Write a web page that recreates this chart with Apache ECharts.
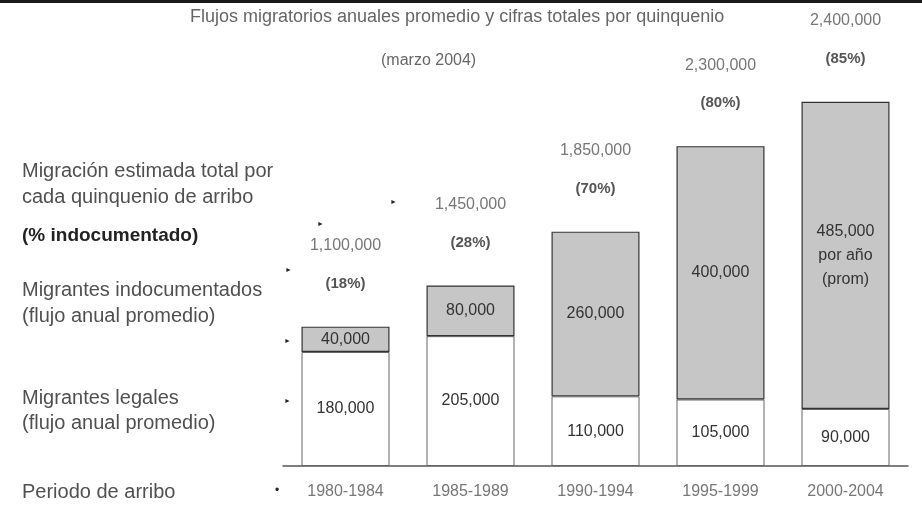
<!DOCTYPE html>
<html lang="es">
<head>
    <meta charset="UTF-8">
    <title>Flujos migratorios</title>
    <style>
        html, body { margin: 0; padding: 0; background: #fff; }
        #container { width: 922px; height: 508px; }
    </style>
</head>
<body>
    <div id="container"></div>
    <script src="https://cdn.jsdelivr.net/npm/echarts@6/dist/echarts.min.js"></script>
    <script>
        // periodos de arribo
        var periodos = ['1980-1984', '1985-1989', '1990-1994', '1995-1999', '2000-2004'];
        // flujo anual promedio
        var legales = [180000, 205000, 110000, 105000, 90000];
        var indocumentados = [40000, 80000, 260000, 400000, 485000];
        // migracion total por quinquenio y % indocumentado
        var totales = [1100000, 1450000, 1850000, 2300000, 2400000];
        var pctIndoc = [18, 28, 70, 80, 85];

        var fmt = function (v) { return v.toLocaleString('en-US'); };
        var font = '"Liberation Sans", Arial, sans-serif';

        var ec = echarts.init(document.querySelector('#container'));

        // textos de la izquierda
        var leftTexts = [
            ['Migración estimada total por', 172, false],
            ['cada quinquenio de arribo', 198, false],
            ['(% indocumentado)', 237, true],
            ['Migrantes indocumentados', 291, false],
            ['(flujo anual promedio)', 317, false],
            ['Migrantes legales', 399, false],
            ['(flujo anual promedio)', 424, false],
            ['Periodo de arribo', 493, false]
        ];
        var graphics = leftTexts.map(function (t) {
            return {
                type: 'text', left: 22, top: t[1] - 11,
                style: {
                    text: t[0], fill: t[2] ? '#222' : '#505050',
                    font: (t[2] ? 'bold 19px ' : '20px ') + font
                }
            };
        });
        // pequeñas flechas
        [[287, 343], [287, 403], [288, 272], [320, 226], [393, 204]].forEach(function (p) {
            graphics.push({
                type: 'text', left: p[0] - 3, top: p[1] - 5,
                style: { text: '►', fill: '#222', font: '7px ' + font }
            });
        });
        graphics.push({
            type: 'text', left: 275, top: 485,
            style: { text: '•', fill: '#222', font: '12px ' + font }
        });
        graphics.push({
            type: 'rect', left: 0, top: 0, shape: { width: 922, height: 3 },
            style: { fill: '#1a1a1a' }
        });
        graphics.push({
            type: 'text', left: 190, top: 8,
            style: {
                text: 'Flujos migratorios anuales promedio y cifras totales por quinquenio',
                fill: '#666', font: '18px ' + font
            }
        });
        graphics.push({
            type: 'text', left: 381, top: 53,
            style: { text: '(marzo 2004)', fill: '#666', font: '16px ' + font }
        });

        var option = {
            backgroundColor: '#fff',
            animation: false,
            graphic: graphics,
            grid: { left: 283, right: 14, top: 86, bottom: 42 },
            xAxis: {
                type: 'category',
                data: periodos,
                axisLine: { show: true, lineStyle: { color: '#555', width: 1.5 } },
                axisTick: { show: false },
                axisLabel: { color: '#777', fontSize: 16, fontFamily: font, margin: 18 }
            },
            yAxis: {
                type: 'value', min: 0, max: 600000, show: false
            },
            series: [
                {
                    name: 'Migrantes legales',
                    type: 'bar', stack: 'total', barWidth: 88,
                    data: legales,
                    itemStyle: { color: '#fff', borderColor: '#666', borderWidth: 1 },
                    label: {
                        show: true, position: 'inside', color: '#333',
                        fontSize: 16, fontFamily: font, formatter: function (p) { return fmt(p.value); }
                    }
                },
                {
                    name: 'Migrantes indocumentados',
                    type: 'bar', stack: 'total', barWidth: 88,
                    data: indocumentados,
                    itemStyle: { color: '#c6c6c6', borderColor: '#333', borderWidth: 1.2 },
                    label: {
                        show: true, position: 'inside', color: '#333',
                        fontSize: 16, fontFamily: font, lineHeight: 24,
                        formatter: function (p) {
                            return p.dataIndex === 4 ? fmt(p.value) + '\npor año\n(prom)' : fmt(p.value);
                        }
                    }
                },
                {
                    name: 'Total',
                    type: 'bar', stack: 'total', barWidth: 88,
                    data: totales.map(function () { return 0; }),
                    itemStyle: { color: 'transparent' },
                    label: {
                        show: true, position: 'top', distance: 24,
                        formatter: function (p) {
                            return '{a|' + fmt(totales[p.dataIndex]) + '}\n{b|(' + pctIndoc[p.dataIndex] + '%)}';
                        },
                        rich: {
                            a: { color: '#777', fontSize: 16, fontFamily: font, lineHeight: 38 },
                            b: { color: '#555', fontSize: 15, fontWeight: 'bold', fontFamily: font, lineHeight: 38 }
                        }
                    }
                }
            ]
        };
        ec.setOption(option);
    </script>
</body>
</html>
